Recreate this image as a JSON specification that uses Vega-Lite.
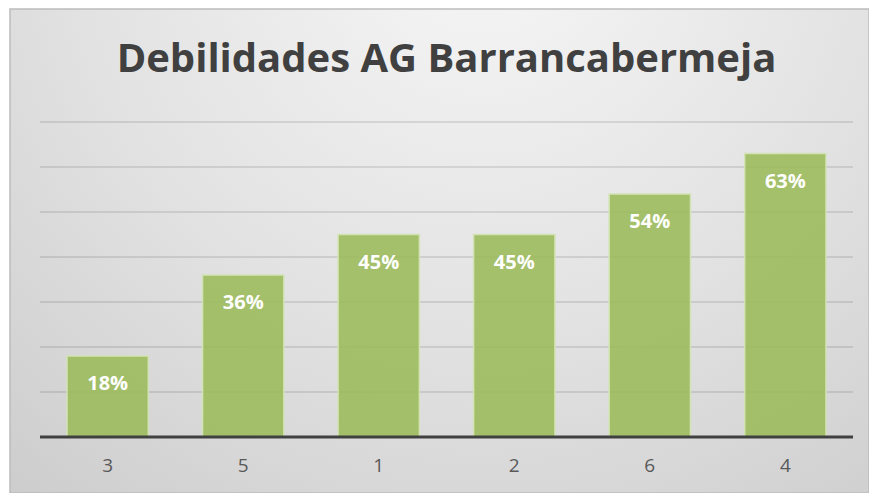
{
  "$schema": "https://vega.github.io/schema/vega-lite/v6.json",
  "width": 859,
  "height": 484,
  "autosize": "none",
  "padding": {"left": 10, "top": 9, "right": 0, "bottom": 0},
  "background": "#ffffff",
  "config": {
    "view": {
      "stroke": "#bcbcbc",
      "strokeWidth": 1.5,
      "fill": {
        "gradient": "radial",
        "x1": 0.55, "y1": 0.12, "r1": 0,
        "x2": 0.55, "y2": 0.12, "r2": 0.95,
        "stops": [
          {"offset": 0, "color": "#f7f7f7"},
          {"offset": 0.5, "color": "#e2e2e2"},
          {"offset": 1, "color": "#c8c8c8"}
        ]
      }
    }
  },
  "title": {
    "text": "Debilidades AG Barrancabermeja",
    "font": "Open Sans",
    "fontSize": 40,
    "fontWeight": "bold",
    "color": "#404040",
    "anchor": "middle",
    "frame": "group",
    "baseline": "alphabetic",
    "offset": -66,
    "dx": 7,
    "dy": 37
  },
  "datasets": {
    "bars": [
      {"cat": "3", "value": 0.18},
      {"cat": "5", "value": 0.36},
      {"cat": "1", "value": 0.45},
      {"cat": "2", "value": 0.45},
      {"cat": "6", "value": 0.54},
      {"cat": "4", "value": 0.63}
    ],
    "grid": [
      {"v": 0.1}, {"v": 0.2}, {"v": 0.3}, {"v": 0.4}, {"v": 0.5}, {"v": 0.6}, {"v": 0.7}
    ]
  },
  "layer": [
    {
      "data": {"name": "grid"},
      "mark": {"type": "rule", "color": "#000000", "opacity": 0.2, "strokeWidth": 1.2},
      "encoding": {
        "x": {"datum": 0, "type": "quantitative", "scale": {"domain": [-0.2214, 6.118], "nice": false, "zero": false}, "axis": null},
        "x2": {"datum": 6},
        "y": {"field": "v", "type": "quantitative", "scale": {"domain": [-0.1244, 0.9511], "nice": false, "zero": false}, "axis": null}
      }
    },
    {
      "data": {"name": "bars"},
      "encoding": {
        "x": {
          "field": "cat", "type": "nominal", "sort": null,
          "scale": {"paddingInner": 0.4, "paddingOuter": 0.369, "align": 0.57},
          "axis": {
            "title": null, "domain": false, "ticks": false, "tickSize": 0,
            "labelPadding": -28, "labelBaseline": "middle", "labelAngle": 0,
            "labelFont": "Open Sans", "labelFontSize": 19, "labelColor": "#595959",
            "grid": false
          }
        },
        "y": {"field": "value", "type": "quantitative", "scale": {"domain": [-0.1244, 0.9511], "nice": false, "zero": false}, "axis": null}
      },
      "layer": [
        {
          "mark": {"type": "bar", "fill": "#9bbb59", "fillOpacity": 0.88, "stroke": "#d3e3b5", "strokeWidth": 1.5},
          "encoding": {"y2": {"datum": 0}}
        },
        {
          "mark": {"type": "text", "color": "#ffffff", "font": "Open Sans", "fontWeight": "bold", "fontSize": 20, "baseline": "middle", "dy": 28},
          "encoding": {"text": {"field": "value", "type": "quantitative", "format": ".0%"}}
        }
      ]
    },
    {
      "data": {"values": [{}]},
      "mark": {"type": "rule", "color": "#404040", "strokeWidth": 3},
      "encoding": {
        "x": {"datum": 0, "type": "quantitative", "scale": {"domain": [-0.2214, 6.118], "nice": false, "zero": false}, "axis": null},
        "x2": {"datum": 6},
        "y": {"datum": 0, "type": "quantitative", "scale": {"domain": [-0.1244, 0.9511], "nice": false, "zero": false}, "axis": null}
      }
    }
  ],
  "resolve": {"scale": {"x": "independent"}}
}
